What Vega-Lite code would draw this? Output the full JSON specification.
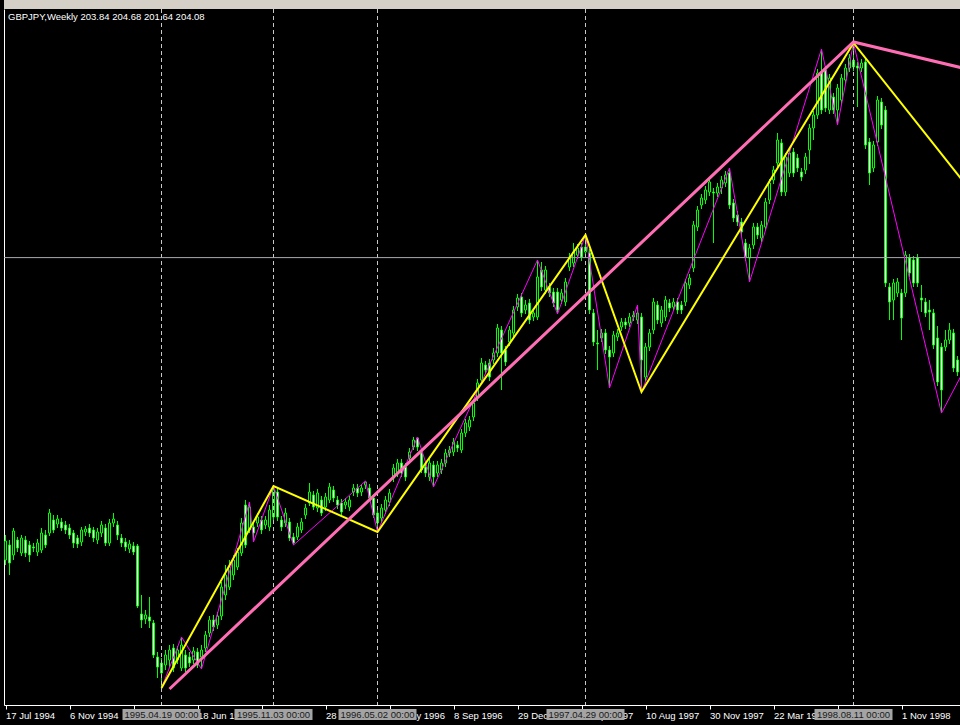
{
"$schema": "https://vega.github.io/schema/vega-lite/v6.json",
"width": 956, "height": 696,
"autosize": "none",
"padding": {"left": 4, "top": 9, "right": 0, "bottom": 20},
"background": "black",
"config": {"view": {"stroke": null}, "axis": {"grid": false}},
"datasets": {
"candles": [
{"d":"1994-07-17","o":143.6,"h":148.6,"l":142.6,"c":147.4},
{"d":"1994-07-24","o":146.6,"h":147.6,"l":140.6,"c":143.0},
{"d":"1994-07-31","o":144.6,"h":150.0,"l":143.6,"c":149.4},
{"d":"1994-08-07","o":147.6,"h":148.2,"l":145.2,"c":146.0},
{"d":"1994-08-14","o":145.0,"h":148.6,"l":144.4,"c":148.0},
{"d":"1994-08-21","o":147.6,"h":148.4,"l":144.2,"c":145.0},
{"d":"1994-08-28","o":146.6,"h":147.4,"l":143.2,"c":144.6},
{"d":"1994-09-04","o":146.2,"h":147.0,"l":145.2,"c":146.0},
{"d":"1994-09-11","o":145.2,"h":147.8,"l":144.4,"c":147.0},
{"d":"1994-09-18","o":145.6,"h":150.0,"l":145.0,"c":149.0},
{"d":"1994-09-25","o":148.6,"h":149.6,"l":146.0,"c":146.6},
{"d":"1994-10-02","o":149.0,"h":153.8,"l":148.4,"c":153.0},
{"d":"1994-10-09","o":151.6,"h":152.6,"l":149.0,"c":149.6},
{"d":"1994-10-16","o":150.8,"h":152.6,"l":150.0,"c":151.8},
{"d":"1994-10-23","o":151.2,"h":152.0,"l":149.4,"c":150.0},
{"d":"1994-10-30","o":150.6,"h":151.4,"l":148.8,"c":149.6},
{"d":"1994-11-06","o":150.0,"h":150.8,"l":147.8,"c":148.6},
{"d":"1994-11-13","o":149.0,"h":149.6,"l":146.0,"c":147.0},
{"d":"1994-11-20","o":148.0,"h":148.6,"l":146.0,"c":146.8},
{"d":"1994-11-27","o":147.2,"h":150.2,"l":146.4,"c":149.6},
{"d":"1994-12-04","o":149.2,"h":150.4,"l":148.4,"c":149.8},
{"d":"1994-12-11","o":150.0,"h":150.8,"l":148.2,"c":149.0},
{"d":"1994-12-18","o":149.6,"h":150.2,"l":147.2,"c":148.0},
{"d":"1994-12-25","o":147.6,"h":150.0,"l":146.8,"c":149.2},
{"d":"1995-01-01","o":149.0,"h":151.4,"l":148.2,"c":150.6},
{"d":"1995-01-08","o":150.0,"h":150.8,"l":146.4,"c":147.0},
{"d":"1995-01-15","o":147.0,"h":151.8,"l":146.4,"c":151.0},
{"d":"1995-01-22","o":151.0,"h":153.0,"l":150.2,"c":151.8},
{"d":"1995-01-29","o":150.6,"h":151.4,"l":147.6,"c":148.6},
{"d":"1995-02-05","o":148.0,"h":148.8,"l":146.2,"c":147.0},
{"d":"1995-02-12","o":147.2,"h":148.0,"l":145.4,"c":146.2},
{"d":"1995-02-19","o":145.8,"h":147.6,"l":145.0,"c":146.8},
{"d":"1995-02-26","o":146.4,"h":147.2,"l":144.6,"c":145.2},
{"d":"1995-03-05","o":146.4,"h":146.8,"l":134.0,"c":134.4},
{"d":"1995-03-12","o":132.8,"h":136.6,"l":130.0,"c":131.6},
{"d":"1995-03-19","o":131.8,"h":133.6,"l":130.8,"c":132.6},
{"d":"1995-03-26","o":132.2,"h":136.2,"l":130.0,"c":131.4},
{"d":"1995-04-02","o":131.0,"h":131.6,"l":124.0,"c":124.6},
{"d":"1995-04-09","o":124.2,"h":125.2,"l":120.0,"c":122.2},
{"d":"1995-04-16","o":123.0,"h":124.0,"l":118.0,"c":121.0},
{"d":"1995-04-23","o":122.6,"h":125.6,"l":121.6,"c":124.6},
{"d":"1995-04-30","o":123.6,"h":126.6,"l":122.0,"c":125.6},
{"d":"1995-05-07","o":126.0,"h":126.8,"l":121.2,"c":122.0},
{"d":"1995-05-14","o":123.6,"h":126.4,"l":122.8,"c":125.6},
{"d":"1995-05-21","o":122.0,"h":128.2,"l":121.4,"c":126.6},
{"d":"1995-05-28","o":124.6,"h":125.6,"l":121.2,"c":122.0},
{"d":"1995-06-04","o":124.2,"h":125.2,"l":122.2,"c":123.0},
{"d":"1995-06-11","o":123.6,"h":126.2,"l":122.8,"c":125.4},
{"d":"1995-06-18","o":125.2,"h":126.0,"l":122.0,"c":122.6},
{"d":"1995-06-25","o":124.2,"h":126.6,"l":121.8,"c":125.6},
{"d":"1995-07-02","o":126.0,"h":129.4,"l":125.2,"c":128.6},
{"d":"1995-07-09","o":129.0,"h":132.4,"l":128.2,"c":131.6},
{"d":"1995-07-16","o":131.6,"h":132.6,"l":129.4,"c":130.2},
{"d":"1995-07-23","o":130.6,"h":133.2,"l":129.8,"c":132.4},
{"d":"1995-07-30","o":132.4,"h":139.2,"l":131.6,"c":138.2},
{"d":"1995-08-06","o":136.6,"h":142.6,"l":135.6,"c":140.6},
{"d":"1995-08-13","o":138.2,"h":143.6,"l":137.6,"c":142.2},
{"d":"1995-08-20","o":140.6,"h":144.6,"l":139.6,"c":143.6},
{"d":"1995-08-27","o":142.2,"h":146.0,"l":141.6,"c":145.2},
{"d":"1995-09-03","o":145.0,"h":152.0,"l":144.4,"c":151.0},
{"d":"1995-09-10","o":154.6,"h":155.6,"l":146.0,"c":146.6},
{"d":"1995-09-17","o":149.6,"h":155.2,"l":149.0,"c":154.2},
{"d":"1995-09-24","o":150.2,"h":151.2,"l":147.2,"c":149.0},
{"d":"1995-10-01","o":151.0,"h":153.0,"l":150.2,"c":152.2},
{"d":"1995-10-08","o":151.6,"h":152.4,"l":148.8,"c":149.6},
{"d":"1995-10-15","o":150.6,"h":152.4,"l":149.8,"c":151.6},
{"d":"1995-10-22","o":150.2,"h":154.6,"l":149.4,"c":153.6},
{"d":"1995-10-29","o":152.2,"h":158.4,"l":151.6,"c":157.6},
{"d":"1995-11-05","o":157.2,"h":158.0,"l":151.4,"c":152.2},
{"d":"1995-11-12","o":151.6,"h":152.4,"l":149.4,"c":150.2},
{"d":"1995-11-19","o":151.0,"h":154.0,"l":150.2,"c":153.0},
{"d":"1995-11-26","o":151.2,"h":152.0,"l":147.4,"c":148.0},
{"d":"1995-12-03","o":148.2,"h":149.0,"l":146.6,"c":147.0},
{"d":"1995-12-10","o":148.2,"h":151.0,"l":147.6,"c":150.2},
{"d":"1995-12-17","o":149.6,"h":152.0,"l":149.0,"c":151.2},
{"d":"1995-12-24","o":152.6,"h":154.8,"l":151.8,"c":154.0},
{"d":"1995-12-31","o":155.0,"h":159.0,"l":154.4,"c":157.2},
{"d":"1996-01-07","o":156.6,"h":157.4,"l":153.6,"c":154.2},
{"d":"1996-01-14","o":154.0,"h":157.8,"l":153.2,"c":157.0},
{"d":"1996-01-21","o":155.6,"h":156.4,"l":152.4,"c":153.0},
{"d":"1996-01-28","o":154.2,"h":157.0,"l":153.4,"c":156.2},
{"d":"1996-02-04","o":155.6,"h":159.0,"l":155.0,"c":158.2},
{"d":"1996-02-11","o":157.6,"h":158.4,"l":155.2,"c":156.0},
{"d":"1996-02-18","o":155.6,"h":156.4,"l":153.8,"c":154.6},
{"d":"1996-02-25","o":155.0,"h":155.8,"l":152.6,"c":153.2},
{"d":"1996-03-03","o":154.6,"h":156.0,"l":153.8,"c":155.2},
{"d":"1996-03-10","o":154.2,"h":156.4,"l":153.4,"c":155.6},
{"d":"1996-03-17","o":157.2,"h":158.8,"l":156.4,"c":158.0},
{"d":"1996-03-24","o":158.0,"h":158.8,"l":156.2,"c":157.0},
{"d":"1996-03-31","o":157.2,"h":158.8,"l":156.4,"c":158.0},
{"d":"1996-04-07","o":158.6,"h":159.4,"l":157.8,"c":159.2},
{"d":"1996-04-14","o":158.0,"h":158.8,"l":155.4,"c":156.0},
{"d":"1996-04-21","o":156.0,"h":156.6,"l":152.0,"c":152.6},
{"d":"1996-04-28","o":153.0,"h":153.8,"l":149.2,"c":151.0},
{"d":"1996-05-05","o":152.0,"h":154.8,"l":151.2,"c":154.0},
{"d":"1996-05-12","o":153.6,"h":156.4,"l":152.8,"c":155.6},
{"d":"1996-05-19","o":155.2,"h":157.8,"l":154.4,"c":157.0},
{"d":"1996-05-26","o":160.0,"h":162.8,"l":159.2,"c":162.0},
{"d":"1996-06-02","o":161.0,"h":163.8,"l":160.2,"c":163.0},
{"d":"1996-06-09","o":163.0,"h":163.8,"l":160.2,"c":161.0},
{"d":"1996-06-16","o":162.2,"h":163.0,"l":159.4,"c":160.2},
{"d":"1996-06-23","o":164.0,"h":166.0,"l":163.2,"c":165.2},
{"d":"1996-06-30","o":166.2,"h":168.2,"l":165.6,"c":167.6},
{"d":"1996-07-07","o":168.0,"h":168.2,"l":165.4,"c":166.2},
{"d":"1996-07-14","o":165.0,"h":165.8,"l":161.0,"c":161.6},
{"d":"1996-07-21","o":162.2,"h":163.0,"l":160.2,"c":161.0},
{"d":"1996-07-28","o":160.2,"h":163.8,"l":159.4,"c":163.0},
{"d":"1996-08-04","o":162.6,"h":163.4,"l":158.2,"c":160.2},
{"d":"1996-08-11","o":161.0,"h":163.4,"l":160.2,"c":162.6},
{"d":"1996-08-18","o":161.6,"h":163.8,"l":160.8,"c":163.0},
{"d":"1996-08-25","o":163.0,"h":165.8,"l":162.2,"c":165.0},
{"d":"1996-09-01","o":165.0,"h":166.4,"l":164.2,"c":165.6},
{"d":"1996-09-08","o":165.2,"h":168.0,"l":164.4,"c":167.2},
{"d":"1996-09-15","o":166.6,"h":167.4,"l":165.2,"c":166.0},
{"d":"1996-09-22","o":165.6,"h":169.8,"l":165.0,"c":169.0},
{"d":"1996-09-29","o":169.0,"h":171.8,"l":168.2,"c":171.0},
{"d":"1996-10-06","o":170.2,"h":172.4,"l":169.4,"c":171.6},
{"d":"1996-10-13","o":172.2,"h":175.8,"l":171.4,"c":175.0},
{"d":"1996-10-20","o":176.2,"h":179.8,"l":175.4,"c":179.0},
{"d":"1996-10-27","o":179.6,"h":184.0,"l":178.8,"c":183.0},
{"d":"1996-11-03","o":182.6,"h":183.4,"l":180.8,"c":181.6},
{"d":"1996-11-10","o":183.0,"h":183.8,"l":179.4,"c":180.2},
{"d":"1996-11-17","o":183.6,"h":186.0,"l":182.8,"c":185.0},
{"d":"1996-11-24","o":185.0,"h":190.8,"l":184.2,"c":190.0},
{"d":"1996-12-01","o":189.6,"h":190.4,"l":177.6,"c":185.0},
{"d":"1996-12-08","o":185.6,"h":186.4,"l":182.4,"c":183.2},
{"d":"1996-12-15","o":187.2,"h":190.4,"l":186.4,"c":189.6},
{"d":"1996-12-22","o":189.0,"h":194.4,"l":188.2,"c":193.6},
{"d":"1996-12-29","o":194.2,"h":196.8,"l":193.4,"c":196.0},
{"d":"1997-01-05","o":196.2,"h":197.0,"l":192.2,"c":193.0},
{"d":"1997-01-12","o":193.6,"h":195.6,"l":192.8,"c":194.6},
{"d":"1997-01-19","o":195.0,"h":195.8,"l":190.8,"c":191.6},
{"d":"1997-01-26","o":192.2,"h":193.8,"l":191.4,"c":193.0},
{"d":"1997-02-02","o":192.2,"h":203.6,"l":191.6,"c":200.2},
{"d":"1997-02-09","o":201.6,"h":203.2,"l":197.4,"c":198.2},
{"d":"1997-02-16","o":197.6,"h":202.4,"l":196.8,"c":201.6},
{"d":"1997-02-23","o":198.2,"h":199.0,"l":196.2,"c":197.0},
{"d":"1997-03-02","o":197.2,"h":198.0,"l":194.2,"c":195.0},
{"d":"1997-03-09","o":197.2,"h":198.0,"l":192.8,"c":193.6},
{"d":"1997-03-16","o":195.6,"h":197.8,"l":194.8,"c":197.0},
{"d":"1997-03-23","o":195.2,"h":200.0,"l":194.4,"c":199.2},
{"d":"1997-03-30","o":202.2,"h":205.0,"l":201.4,"c":204.2},
{"d":"1997-04-06","o":203.0,"h":207.0,"l":202.2,"c":205.2},
{"d":"1997-04-13","o":204.6,"h":206.8,"l":203.8,"c":206.0},
{"d":"1997-04-20","o":206.2,"h":207.0,"l":203.4,"c":204.2},
{"d":"1997-04-27","o":205.2,"h":208.6,"l":204.4,"c":206.2},
{"d":"1997-05-04","o":205.0,"h":205.8,"l":192.8,"c":193.6},
{"d":"1997-05-11","o":193.0,"h":193.8,"l":186.4,"c":187.2},
{"d":"1997-05-18","o":187.0,"h":189.6,"l":181.6,"c":186.8},
{"d":"1997-05-25","o":188.0,"h":189.8,"l":187.2,"c":189.0},
{"d":"1997-06-01","o":189.0,"h":189.8,"l":184.8,"c":185.6},
{"d":"1997-06-08","o":185.6,"h":186.4,"l":178.0,"c":184.2},
{"d":"1997-06-15","o":185.0,"h":189.4,"l":184.2,"c":188.6},
{"d":"1997-06-22","o":188.2,"h":189.8,"l":187.4,"c":189.0},
{"d":"1997-06-29","o":190.2,"h":192.0,"l":189.4,"c":191.2},
{"d":"1997-07-06","o":191.2,"h":192.0,"l":189.8,"c":190.6},
{"d":"1997-07-13","o":191.0,"h":193.0,"l":190.2,"c":192.2},
{"d":"1997-07-20","o":192.2,"h":193.4,"l":191.4,"c":192.6},
{"d":"1997-07-27","o":191.6,"h":194.6,"l":190.8,"c":193.0},
{"d":"1997-08-03","o":192.2,"h":193.0,"l":177.2,"c":183.6},
{"d":"1997-08-10","o":180.2,"h":187.0,"l":179.4,"c":186.2},
{"d":"1997-08-17","o":186.2,"h":189.8,"l":185.4,"c":189.0},
{"d":"1997-08-24","o":189.6,"h":196.0,"l":188.8,"c":195.2},
{"d":"1997-08-31","o":194.6,"h":195.4,"l":190.8,"c":191.6},
{"d":"1997-09-07","o":191.0,"h":194.4,"l":190.2,"c":193.6},
{"d":"1997-09-14","o":192.2,"h":196.4,"l":191.4,"c":195.6},
{"d":"1997-09-21","o":195.0,"h":195.8,"l":193.2,"c":194.0},
{"d":"1997-09-28","o":194.2,"h":196.0,"l":193.4,"c":195.2},
{"d":"1997-10-05","o":195.2,"h":196.0,"l":192.8,"c":193.6},
{"d":"1997-10-12","o":194.6,"h":195.4,"l":192.8,"c":193.6},
{"d":"1997-10-19","o":195.2,"h":199.8,"l":194.4,"c":199.0},
{"d":"1997-10-26","o":198.6,"h":200.8,"l":197.8,"c":200.0},
{"d":"1997-11-02","o":202.0,"h":211.4,"l":201.2,"c":210.6},
{"d":"1997-11-09","o":210.2,"h":214.4,"l":209.4,"c":213.6},
{"d":"1997-11-16","o":214.6,"h":216.8,"l":213.8,"c":216.0},
{"d":"1997-11-23","o":215.6,"h":218.4,"l":214.8,"c":217.6},
{"d":"1997-11-30","o":217.2,"h":220.0,"l":216.4,"c":219.2},
{"d":"1997-12-07","o":217.2,"h":218.0,"l":207.0,"c":217.0},
{"d":"1997-12-14","o":217.0,"h":219.0,"l":216.2,"c":218.2},
{"d":"1997-12-21","o":218.0,"h":220.4,"l":216.8,"c":219.6},
{"d":"1997-12-28","o":219.0,"h":221.4,"l":218.2,"c":220.6},
{"d":"1998-01-04","o":221.0,"h":222.0,"l":213.8,"c":214.6},
{"d":"1998-01-11","o":215.0,"h":215.8,"l":211.2,"c":212.0},
{"d":"1998-01-18","o":212.6,"h":213.4,"l":210.4,"c":211.2},
{"d":"1998-01-25","o":211.2,"h":212.0,"l":208.4,"c":209.2},
{"d":"1998-02-01","o":207.0,"h":207.8,"l":203.4,"c":204.2},
{"d":"1998-02-08","o":204.0,"h":206.8,"l":199.2,"c":206.0},
{"d":"1998-02-15","o":206.6,"h":211.0,"l":205.8,"c":210.2},
{"d":"1998-02-22","o":210.2,"h":211.0,"l":207.8,"c":208.6},
{"d":"1998-03-01","o":208.0,"h":211.4,"l":207.2,"c":210.6},
{"d":"1998-03-08","o":210.2,"h":216.0,"l":209.4,"c":215.2},
{"d":"1998-03-15","o":215.6,"h":219.8,"l":214.8,"c":219.0},
{"d":"1998-03-22","o":219.6,"h":222.4,"l":218.8,"c":221.6},
{"d":"1998-03-29","o":223.0,"h":229.0,"l":222.2,"c":227.6},
{"d":"1998-04-05","o":227.0,"h":227.8,"l":216.4,"c":217.2},
{"d":"1998-04-12","o":217.2,"h":225.0,"l":216.4,"c":224.2},
{"d":"1998-04-19","o":221.0,"h":225.8,"l":220.2,"c":225.0},
{"d":"1998-04-26","o":225.2,"h":226.0,"l":220.2,"c":221.0},
{"d":"1998-05-03","o":224.0,"h":224.8,"l":221.2,"c":222.0},
{"d":"1998-05-10","o":221.2,"h":222.0,"l":219.4,"c":220.2},
{"d":"1998-05-17","o":221.6,"h":225.0,"l":220.8,"c":224.2},
{"d":"1998-05-24","o":225.6,"h":230.8,"l":222.8,"c":230.0},
{"d":"1998-05-31","o":230.0,"h":233.4,"l":227.6,"c":232.6},
{"d":"1998-06-07","o":232.6,"h":241.8,"l":231.8,"c":241.0},
{"d":"1998-06-14","o":241.2,"h":245.8,"l":232.8,"c":233.6},
{"d":"1998-06-21","o":241.6,"h":242.4,"l":233.2,"c":234.0},
{"d":"1998-06-28","o":233.6,"h":240.8,"l":232.8,"c":240.0},
{"d":"1998-07-05","o":236.2,"h":237.0,"l":232.8,"c":233.6},
{"d":"1998-07-12","o":233.6,"h":238.8,"l":230.6,"c":238.0},
{"d":"1998-07-19","o":235.6,"h":240.8,"l":234.8,"c":240.0},
{"d":"1998-07-26","o":239.6,"h":242.8,"l":238.8,"c":242.0},
{"d":"1998-08-02","o":242.0,"h":244.8,"l":241.2,"c":244.0},
{"d":"1998-08-09","o":243.6,"h":247.0,"l":241.4,"c":242.2},
{"d":"1998-08-16","o":242.4,"h":243.2,"l":234.2,"c":242.0},
{"d":"1998-08-23","o":242.0,"h":243.8,"l":241.2,"c":243.0},
{"d":"1998-08-30","o":243.2,"h":244.0,"l":225.8,"c":226.6},
{"d":"1998-09-06","o":227.2,"h":228.0,"l":218.6,"c":221.0},
{"d":"1998-09-13","o":222.0,"h":227.4,"l":221.2,"c":226.6},
{"d":"1998-09-20","o":227.2,"h":236.4,"l":226.4,"c":235.6},
{"d":"1998-09-27","o":235.2,"h":236.0,"l":229.8,"c":230.6},
{"d":"1998-10-04","o":233.6,"h":234.4,"l":198.2,"c":199.0},
{"d":"1998-10-11","o":198.2,"h":199.0,"l":191.6,"c":195.2},
{"d":"1998-10-18","o":195.6,"h":199.8,"l":191.6,"c":199.0},
{"d":"1998-10-25","o":197.0,"h":200.0,"l":196.2,"c":199.2},
{"d":"1998-11-01","o":197.0,"h":197.8,"l":187.6,"c":192.0},
{"d":"1998-11-08","o":197.0,"h":205.4,"l":196.2,"c":204.6},
{"d":"1998-11-15","o":204.0,"h":204.8,"l":200.2,"c":201.0},
{"d":"1998-11-22","o":203.6,"h":204.4,"l":198.2,"c":199.0},
{"d":"1998-11-29","o":204.0,"h":204.8,"l":198.2,"c":199.0},
{"d":"1998-12-06","o":196.0,"h":198.6,"l":193.2,"c":195.6},
{"d":"1998-12-13","o":195.2,"h":196.0,"l":192.2,"c":193.0},
{"d":"1998-12-20","o":193.6,"h":195.6,"l":189.6,"c":193.2},
{"d":"1998-12-27","o":193.0,"h":193.8,"l":185.8,"c":186.6},
{"d":"1999-01-03","o":188.0,"h":190.4,"l":178.4,"c":179.2},
{"d":"1999-01-10","o":186.2,"h":187.0,"l":173.0,"c":177.6},
{"d":"1999-01-17","o":186.2,"h":189.6,"l":185.4,"c":187.6},
{"d":"1999-01-24","o":187.6,"h":191.0,"l":186.8,"c":189.6},
{"d":"1999-01-31","o":189.0,"h":189.8,"l":181.2,"c":182.0},
{"d":"1999-02-07","o":183.6,"h":184.4,"l":180.4,"c":181.2}
],
"magenta": [
{"d":"1995-04-16","p":118.0},{"d":"1995-05-21","p":128.2},{"d":"1995-06-25","p":121.8},{"d":"1995-09-17","p":155.2},{"d":"1995-09-24","p":147.2},{"d":"1995-10-29","p":158.4},{"d":"1995-12-03","p":146.6},{"d":"1996-04-07","p":159.4},{"d":"1996-04-28","p":149.2},{"d":"1996-07-07","p":168.2},{"d":"1996-08-04","p":158.2},{"d":"1997-02-02","p":203.6},{"d":"1997-03-09","p":192.8},{"d":"1997-04-27","p":208.6},{"d":"1997-06-08","p":178.0},{"d":"1997-07-27","p":194.6},{"d":"1997-08-03","p":177.2},{"d":"1998-01-04","p":222.0},{"d":"1998-02-08","p":199.2},{"d":"1998-06-14","p":245.8},{"d":"1998-07-12","p":230.6},{"d":"1998-08-09","p":247.0},{"d":"1999-01-10","p":173.0},{"d":"1999-02-28","p":183.64}
],
"yellow": [
{"d":"1995-04-16","p":118.0},{"d":"1995-10-29","p":158.4},{"d":"1996-04-28","p":149.2},{"d":"1997-04-27","p":208.6},{"d":"1997-08-03","p":177.2},{"d":"1998-08-09","p":247.0},{"d":"1999-07-11","p":198.56}
],
"pink": [
{"d":"1995-04-30","p":117.8},{"d":"1998-08-09","p":247.2},{"d":"1999-07-11","p":238.06}
],
"pivots": [
{"d":"1995-04-16","t":"1995.04.19 00:00"},{"d":"1995-10-29","t":"1995.11.03 00:00"},{"d":"1996-04-28","t":"1996.05.02 00:00"},{"d":"1997-04-27","t":"1997.04.29 00:00"},{"d":"1998-08-09","t":"1998.08.11 00:00"}
],
"bid": [{"p": 204.08}],
"strip": [{"top": 255.6, "bottom": 253.8}],
"header": [{"t": "GBPJPY,Weekly  203.84 204.68 201.64 204.08"}]
},
"layer": [
{
"data": {"name": "strip"},
"mark": {"type": "rect", "color": "#d4d0c8", "clip": false},
"encoding": {"y": {"field": "top", "type": "quantitative"}, "y2": {"field": "bottom"}}
},
{
"data": {"name": "candles"},
"mark": {"type": "rule", "color": "#00ff00", "strokeWidth": 1, "clip": true},
"encoding": {
"x": {"field": "d", "type": "temporal",
"scale": {"type": "utc", "padding": 0, "domain": [{"year":1994,"month":7,"date":14,"hours":9,"utc":true},{"year":1999,"month":2,"date":11,"hours":9,"utc":true}]},
"axis": {"title": null, "values": [
{"year":1994,"month":7,"date":17,"utc":true},{"year":1994,"month":11,"date":6,"utc":true},{"year":1995,"month":2,"date":26,"utc":true},{"year":1995,"month":6,"date":18,"utc":true},{"year":1995,"month":10,"date":8,"utc":true},{"year":1996,"month":1,"date":28,"utc":true},{"year":1996,"month":5,"date":19,"utc":true},{"year":1996,"month":9,"date":8,"utc":true},{"year":1996,"month":12,"date":29,"utc":true},{"year":1997,"month":4,"date":20,"utc":true},{"year":1997,"month":8,"date":10,"utc":true},{"year":1997,"month":11,"date":30,"utc":true},{"year":1998,"month":3,"date":22,"utc":true},{"year":1998,"month":7,"date":12,"utc":true},{"year":1998,"month":11,"date":1,"utc":true}],
"labelExpr": "utcFormat(datum.value, '%-d %b %Y')",
"domainColor": "white", "tickColor": "white", "tickSize": 4, "labelColor": "white", "labelFont": "Liberation Sans", "labelFontSize": 9.5, "labelAlign": "left", "labelBaseline": "top", "labelPadding": 1, "labelDx": 1, "labelFlush": false, "labelOverlap": false, "grid": false}},
"y": {"field": "l", "type": "quantitative",
"scale": {"domain": [114.6, 253.8], "zero": false, "nice": false, "padding": 0},
"axis": {"title": null, "labels": false, "ticks": false, "grid": false, "domainColor": "white"}},
"y2": {"field": "h"}
}
},
{
"data": {"name": "candles"},
"mark": {"type": "bar", "width": 2, "stroke": "#00ff00", "strokeWidth": 1, "clip": true},
"encoding": {
"x": {"field": "d", "type": "temporal"},
"y": {"field": "o", "type": "quantitative"},
"y2": {"field": "c"},
"fill": {"condition": {"test": "datum.c < datum.o", "value": "white"}, "value": "black"}
}
},
{
"data": {"name": "pivots"},
"mark": {"type": "rule", "color": "#c8c8c8", "strokeWidth": 1, "strokeDash": [4, 3], "clip": true},
"encoding": {"x": {"field": "d", "type": "temporal"}}
},
{
"data": {"name": "bid"},
"mark": {"type": "rule", "color": "#a8a8b0", "strokeWidth": 1, "clip": true},
"encoding": {"y": {"field": "p", "type": "quantitative"}}
},
{
"data": {"name": "magenta"},
"mark": {"type": "line", "color": "#ff00ff", "strokeWidth": 1, "clip": true},
"encoding": {"x": {"field": "d", "type": "temporal"}, "y": {"field": "p", "type": "quantitative"}}
},
{
"data": {"name": "yellow"},
"mark": {"type": "line", "color": "#ffff00", "strokeWidth": 2, "clip": true},
"encoding": {"x": {"field": "d", "type": "temporal"}, "y": {"field": "p", "type": "quantitative"}}
},
{
"data": {"name": "pink"},
"mark": {"type": "line", "color": "#ff6eb4", "strokeWidth": 3, "clip": true},
"encoding": {"x": {"field": "d", "type": "temporal"}, "y": {"field": "p", "type": "quantitative"}}
},
{
"data": {"name": "pivots"},
"mark": {"type": "bar", "width": 78, "color": "#a4a4a4", "clip": false},
"encoding": {"x": {"field": "d", "type": "temporal"}, "y": {"datum": 113.8, "type": "quantitative"}, "y2": {"datum": 111.6}}
},
{
"data": {"name": "pivots"},
"mark": {"type": "text", "color": "#1a1a1a", "font": "Liberation Sans", "fontSize": 9.5, "align": "center", "baseline": "middle", "clip": false},
"encoding": {"x": {"field": "d", "type": "temporal"}, "y": {"datum": 112.7, "type": "quantitative"}, "text": {"field": "t"}}
},
{
"data": {"name": "header"},
"mark": {"type": "text", "color": "white", "font": "Liberation Sans", "fontSize": 9.5, "align": "left", "baseline": "alphabetic"},
"encoding": {"x": {"datum": {"year": 1994, "month": 7, "date": 21, "hours": 9, "utc": true}, "type": "temporal"}, "y": {"datum": 251.6, "type": "quantitative"}, "text": {"field": "t"}}
}
]
}
